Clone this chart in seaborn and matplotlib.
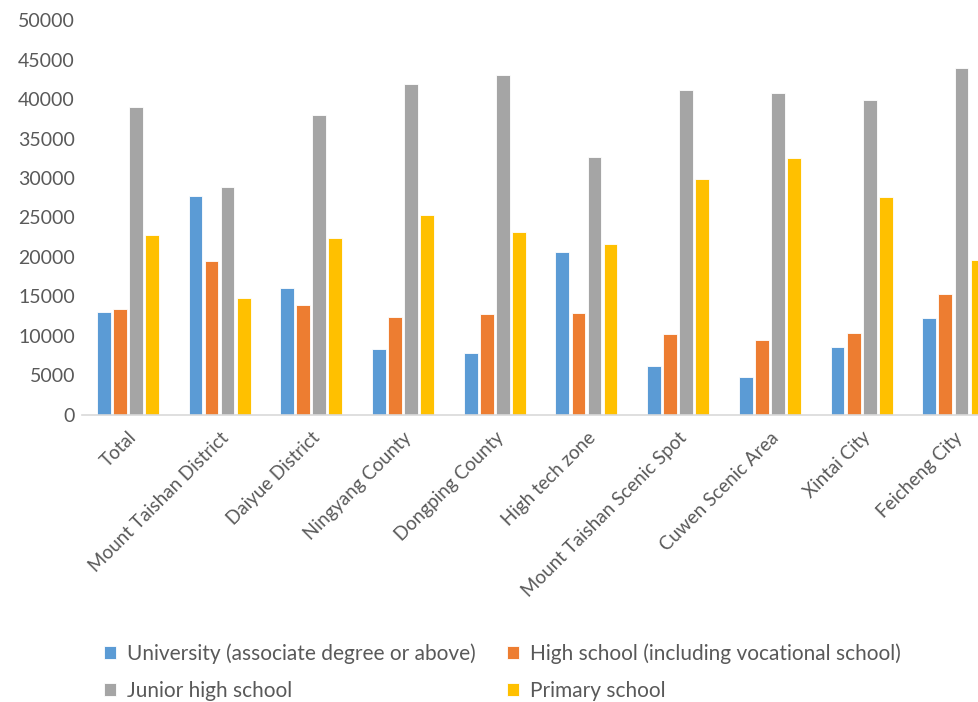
import pandas as pd
import matplotlib
matplotlib.use('Agg')
import matplotlib.pyplot as plt
import seaborn as sns

regions = ['Total', 'Mount Taishan District', 'Daiyue District', 'Ningyang County',
           'Dongping County', 'High tech zone', 'Mount Taishan Scenic Spot',
           'Cuwen Scenic Area', 'Xintai City', 'Feicheng City']
levels = ['University (associate degree or above)', 'High school (including vocational school)',
          'Junior high school', 'Primary school']

university = [13000, 27700, 16100, 8400, 7800, 20600, 6200, 4800, 8600, 12300]
high_school = [13400, 19500, 13900, 12400, 12800, 12900, 10200, 9500, 10400, 15300]
junior_high = [39000, 28900, 38000, 41900, 43000, 32700, 41100, 40800, 39900, 43900]
primary = [22800, 14800, 22400, 25300, 23200, 21700, 29900, 32500, 27600, 19600]

colors = ['#5b9bd5', '#ed7d31', '#a5a5a5', '#ffc000']

df = pd.DataFrame({'region': regions * 4,
                   'level': [l for l in levels for _ in regions],
                   'value': university + high_school + junior_high + primary})

sns.set_style('white')
plt.rcParams['font.family'] = ['Lato', 'DejaVu Sans']

fig = plt.figure(figsize=(9.79, 7.02), dpi=100)
ax = fig.add_axes([0.0837, 0.409, 0.937, 0.5624])

sns.barplot(data=df, x='region', y='value', hue='level', hue_order=levels,
            palette=colors, saturation=1, width=0.70, gap=0.14,
            edgecolor='white', linewidth=0.6, ax=ax, legend=True)

ax.set_ylim(0, 50000)
ax.set_yticks(range(0, 50001, 5000))
ax.set_xlim(-0.5, 9.5)
ax.set_xlabel('')
ax.set_ylabel('')
ax.tick_params(axis='y', length=0, colors='#595959', labelsize=14, pad=5)
ax.tick_params(axis='x', length=0, colors='#595959', labelsize=13.5, pad=10)
plt.setp(ax.get_xticklabels(), rotation=45, ha='right', rotation_mode='anchor')
for s in ['top', 'right', 'left']:
    ax.spines[s].set_visible(False)
ax.spines['bottom'].set_color('#d9d9d9')
ax.spines['bottom'].set_linewidth(1.2)

handles, labels = ax.get_legend_handles_labels()
ax.legend_.remove()
order = [0, 2, 1, 3]
fig.legend([handles[i] for i in order], [labels[i] for i in order],
           loc='upper left', bbox_to_anchor=(0.087, 0.11), ncol=2,
           frameon=False, fontsize=15, labelcolor='#595959', handlelength=0.6,
           handleheight=0.6, handletextpad=0.5, columnspacing=1.5, labelspacing=0.8)

fig.savefig('out.png', dpi=100)
